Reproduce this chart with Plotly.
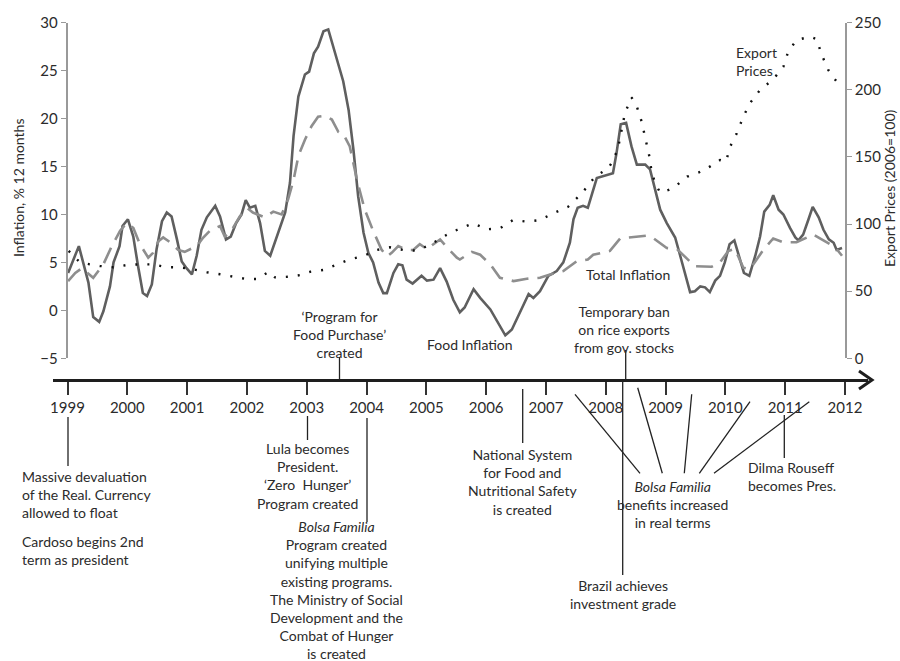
import plotly.graph_objects as go

# ---------------- data ----------------
food_t = [1999.01,1999.19,1999.35,1999.43,1999.53,1999.60,1999.71,1999.77,1999.87,1999.92,
          2000.01,2000.10,2000.18,2000.26,2000.33,2000.41,2000.49,2000.58,2000.66,2000.74,2000.83,2000.91,2000.99,
          2001.08,2001.16,2001.24,2001.33,2001.47,2001.55,2001.65,2001.73,2001.82,2001.91,2001.98,
          2002.05,2002.14,2002.22,2002.30,2002.39,2002.50,2002.64,2002.72,2002.78,2002.86,2002.97,
          2003.04,2003.12,2003.19,2003.28,2003.36,2003.47,2003.61,2003.70,2003.78,2003.86,2003.95,
          2004.03,2004.11,2004.20,2004.28,2004.34,2004.45,2004.53,2004.60,2004.67,2004.77,2004.92,
          2005.01,2005.12,2005.23,2005.34,2005.45,2005.56,2005.64,2005.79,2005.90,
          2006.07,2006.20,2006.32,2006.43,2006.57,2006.71,2006.79,2006.90,
          2007.04,2007.18,2007.29,2007.40,2007.46,2007.53,2007.62,2007.70,2007.85,2007.99,
          2008.12,2008.18,2008.25,2008.34,2008.43,2008.52,2008.66,2008.74,2008.82,2008.91,
          2009.02,2009.16,2009.24,2009.33,2009.41,2009.49,2009.58,2009.66,2009.74,2009.83,2009.91,2009.99,
          2010.07,2010.15,2010.23,2010.31,2010.40,2010.50,2010.58,2010.65,2010.74,2010.80,2010.89,2010.97,
          2011.08,2011.17,2011.22,2011.30,2011.39,2011.46,2011.56,2011.64,2011.73,2011.81,2011.86,2011.95]
food_v = [3.9,6.7,2.9,-0.7,-1.2,-0.1,2.5,5.0,6.7,8.8,
          9.5,7.7,4.6,1.8,1.5,2.7,6.4,9.3,10.2,9.8,7.4,5.1,4.4,
          3.75,5.7,8.4,9.7,10.9,9.8,7.4,7.7,9.1,10.0,11.5,
          10.7,10.9,9.1,6.2,5.7,7.7,10.2,13.3,18.2,22.3,24.6,
          24.9,26.8,27.5,29.1,29.3,27.0,23.9,20.9,16.8,11.9,8.1,
          6.0,5.0,2.9,1.8,1.8,3.9,4.8,4.7,3.2,2.8,3.6,
          3.1,3.2,4.4,3.0,1.1,-0.2,0.3,2.2,1.3,
          0.1,-1.3,-2.6,-2.0,-0.2,1.7,1.3,2.0,
          3.6,4.1,5.0,7.05,9.5,10.7,10.9,10.7,13.8,14.1,
          14.3,16.4,19.4,19.55,17.1,15.2,15.2,14.7,12.6,10.5,
          9.1,7.6,5.8,3.6,1.9,2.0,2.5,2.4,1.9,3.1,3.6,5.0,
          6.9,7.3,5.7,3.9,3.6,5.7,7.7,10.3,11.0,12.0,10.5,10.0,
          8.6,7.6,7.3,7.9,9.5,10.8,9.7,8.4,7.4,7.05,6.3,6.5]

total_t = [1999.01,1999.13,1999.24,1999.43,1999.60,1999.74,1999.88,1999.99,
           2000.10,2000.21,2000.35,2000.43,2000.52,2000.60,2000.74,2000.85,2000.96,
           2001.16,2001.27,2001.38,2001.55,2001.63,2001.74,2001.88,2002.00,
           2002.10,2002.30,2002.44,2002.58,2002.69,2002.78,2002.86,2002.97,
           2003.08,2003.19,2003.31,2003.42,2003.53,2003.61,2003.72,2003.84,2003.97,
           2004.11,2004.25,2004.34,2004.42,2004.53,2004.67,2004.78,2004.89,
           2005.01,2005.12,2005.23,2005.34,2005.51,2005.56,2005.76,2005.90,
           2006.07,2006.23,2006.46,2006.68,2006.90,2007.07,2007.29,2007.51,2007.70,2007.79,
           2008.07,2008.24,2008.52,2008.69,2008.80,2009.02,2009.19,2009.30,2009.49,2009.77,2009.91,
           2010.05,2010.16,2010.30,2010.41,2010.50,2010.64,2010.80,2010.97,
           2011.19,2011.30,2011.47,2011.61,2011.75,2011.86,2011.95]
total_v = [3.05,3.9,4.4,3.4,4.8,6.7,8.3,9.1,
           8.6,6.9,5.5,6.0,7.2,7.6,7.0,6.3,6.1,
           6.7,7.6,8.3,8.8,7.7,8.3,9.8,10.7,
           10.2,9.7,10.3,10.0,11.6,13.6,16.1,17.8,
           19.2,20.2,20.3,19.9,18.6,18.4,17.1,13.6,10.5,
           8.3,6.35,5.6,6.0,6.7,6.3,6.3,6.9,
           6.4,6.9,7.4,6.6,5.5,5.3,6.1,5.8,
           4.8,3.4,3.05,3.3,3.4,3.75,4.1,5.1,5.3,5.8,
           6.2,7.5,7.7,7.8,7.5,6.5,6.4,5.7,4.6,4.55,5.0,
           6.2,6.4,4.45,4.3,5.1,6.35,7.5,7.1,
           7.1,7.4,7.9,7.4,6.9,6.4,5.7]

export_t = [1999.02,1999.20,1999.37,1999.54,1999.77,1999.99,
            2000.21,2000.43,2000.66,2000.88,2001.10,2001.33,2001.55,2001.77,2001.99,
            2002.16,2002.37,2002.47,2002.72,2002.89,2003.06,2003.28,2003.50,2003.72,2003.95,
            2004.17,2004.39,2004.61,2004.84,2005.06,2005.28,2005.51,2005.78,2006.01,2006.23,
            2006.45,2006.68,2006.90,2007.12,2007.37,2007.60,2007.82,2008.04,2008.13,2008.21,
            2008.27,2008.32,2008.43,2008.52,2008.60,2008.69,2008.73,2008.77,2008.84,2008.91,
            2009.05,2009.19,2009.36,2009.55,2009.74,2009.91,2010.01,2010.08,2010.19,2010.30,
            2010.41,2010.58,2010.80,2010.97,2011.05,2011.19,2011.42,2011.53,2011.60,2011.72,
            2011.86,2011.92]
export_v = [80.0,71.8,70.0,68.8,67.8,69.5,
            70.0,70.0,67.8,67.8,66.3,64.1,62.6,60.8,59.1,
            59.1,64.5,60.3,60.8,62.0,64.5,65.8,69.5,73.7,76.2,
            80.7,82.7,80.7,80.2,84.4,90.6,95.6,100.6,96.1,96.8,
            103.0,101.8,103.0,108.0,112.9,122.9,135.3,141.5,147.7,157.6,
            170.1,182.5,194.4,187.4,176.3,157.6,150.2,137.8,129.1,123.4,
            125.4,129.1,135.3,138.3,142.8,147.7,146.5,157.7,167.6,180.0,
            190.0,199.9,207.8,217.2,228.4,237.1,239.6,237.7,227.2,214.8,
            206.1,204.9]

years = list(range(1999, 2013))
left_ticks = [-5, 0, 5, 10, 15, 20, 25, 30]
right_ticks = [0, 50, 100, 150, 200, 250]

# ---------------- layout helpers ----------------
W, H = 900, 661
FONT = "Lato"
TXT = "#2b2b2b"


def X(px):
    return px / W


def Y(py):
    return 1 - py / H


fig = go.Figure()
fig.add_trace(go.Scatter(x=food_t, y=food_v, mode="lines", name="Food Inflation",
                         line=dict(color="#5f5f5f", width=2.6)))
fig.add_trace(go.Scatter(x=total_t, y=total_v, mode="lines", name="Total Inflation",
                         line=dict(color="#8e8e8e", width=2.6, dash="17px,9px")))
fig.add_trace(go.Scatter(x=export_t, y=export_v, mode="lines", name="Export Prices",
                         yaxis="y2", line=dict(color="#111111", width=2.4, dash="2px,10px")))
# empty trace so that the timeline axis is drawn
fig.add_trace(go.Scatter(x=[], y=[], xaxis="x2", yaxis="y", showlegend=False))

x0, x1 = 67.5, 845.0
pxyr = (x1 - x0) / 13.0
tl0, tl1 = 53.0, 868.0

axis_font = dict(family=FONT, size=15, color=TXT)

fig.update_layout(
    width=W, height=H,
    margin=dict(l=0, r=0, t=0, b=0),
    paper_bgcolor="white", plot_bgcolor="rgba(0,0,0,0)",
    showlegend=False,
    font=dict(family=FONT, size=14, color=TXT),
    xaxis=dict(domain=[X(x0), X(x1)], range=[1999, 2012], visible=False, automargin=False),
    xaxis2=dict(domain=[X(tl0), X(tl1)],
                range=[1999 + (tl0 - x0) / pxyr, 1999 + (tl1 - x0) / pxyr],
                anchor="free", position=Y(380), side="bottom",
                showline=True, linecolor="#1e1e1e", linewidth=3,
                ticks="outside", ticklen=13, tickwidth=1.5, tickcolor="#333",
                tickvals=years, ticktext=[str(y) for y in years],
                tickfont=dict(family=FONT, size=15, color=TXT),
                showgrid=False, zeroline=False, automargin=False, fixedrange=True),
    yaxis=dict(domain=[Y(358.3), Y(22.7)], range=[-5, 30],
               tickvals=left_ticks, ticks="outside", ticklen=5, tickcolor="#999",
               showline=True, linecolor="#999", linewidth=1.5,
               showgrid=False, zeroline=False, tickfont=axis_font, automargin=False),
    yaxis2=dict(overlaying="y", side="right", anchor="x", range=[0, 250],
                tickvals=right_ticks, ticks="outside", ticklen=5, tickcolor="#999",
                showline=True, linecolor="#999", linewidth=1.5,
                showgrid=False, zeroline=False, tickfont=axis_font, automargin=False),
)

shapes = []


def seg(xa, ya, xb, yb, w=1.3, c="#222"):
    shapes.append(dict(type="line", xref="paper", yref="paper",
                       x0=X(xa), y0=Y(ya), x1=X(xb), y1=Y(yb),
                       line=dict(color=c, width=w)))


# arrow head of the timeline
shapes.append(dict(type="path", xref="paper", yref="paper",
                   path=f"M {X(859)},{Y(371)} L {X(872)},{Y(380)} L {X(859)},{Y(389)}",
                   line=dict(color="#1e1e1e", width=3)))

# pointer lines
seg(339.5, 357, 339.5, 380)      # Program for Food Purchase
seg(625.7, 350, 625.7, 380)      # Temporary ban
seg(68, 417, 68, 466)            # 1999
seg(307.5, 416, 307.5, 440)      # 2003 Lula
seg(367, 418, 367, 522)          # 2004 Bolsa Familia
seg(522.7, 389, 522.7, 443)      # National System
seg(622.7, 380, 622.7, 575)      # Investment grade
seg(784.3, 415, 784.3, 458)      # Dilma
# Bolsa Familia benefit increases
seg(575, 394.3, 640, 473.3)
seg(637.7, 387.7, 662.3, 473.3)
seg(691.7, 394.3, 684.3, 473.3)
seg(750, 401.7, 699.3, 473.3)
seg(809.3, 401.7, 714, 473.3)

fig.update_layout(shapes=shapes)

ann = []


def note(text, px, py, xanchor="center", align="center", size=14, angle=0):
    ann.append(dict(text=text, x=X(px), y=Y(py), xref="paper", yref="paper",
                    xanchor=xanchor, yanchor="middle", align=align, showarrow=False,
                    textangle=angle,
                    font=dict(family=FONT, size=size, color=TXT)))


# axis titles
note("Inflation, % 12 months", 18, 188, angle=-90)
note("Export Prices (2006=100)", 889, 188, angle=-90)

note("Export<br>Prices", 734, 61.7, xanchor="left", align="left")
note("Total Inflation", 584, 274, xanchor="left", align="left")
note("Food Inflation", 470, 344)
note("‘Program for<br>Food Purchase’<br>created", 339, 334.7)
note("Temporary ban<br>on rice exports<br>from gov. stocks", 624, 329)
note("Massive devaluation<br>of the Real. Currency<br>allowed to float", 20, 494,
     xanchor="left", align="left")
note("Cardoso begins 2nd<br>term as president", 20, 550, xanchor="left", align="left")
note("Lula becomes<br>President.<br>‘Zero  Hunger’<br>Program created", 307, 476)
note("<i>Bolsa Familia</i><br>Program created<br>unifying multiple<br>existing programs.<br>"
     "The Ministry of Social<br>Development and the<br>Combat of Hunger<br>is created", 336, 590)
note("National System<br>for Food and<br>Nutritional Safety<br>is created", 522, 482)
note("<i>Bolsa Familia</i><br>benefits increased<br>in real terms", 672, 504)
note("Dilma Rouseff<br>becomes Pres.", 746, 476, xanchor="left", align="left")
note("Brazil achieves<br>investment grade", 623, 594)

fig.update_layout(annotations=ann)

fig.write_html("out.html",
               config={"displayModeBar": False},
               post_script="document.body.style.margin='0px';document.body.style.padding='0px';")
